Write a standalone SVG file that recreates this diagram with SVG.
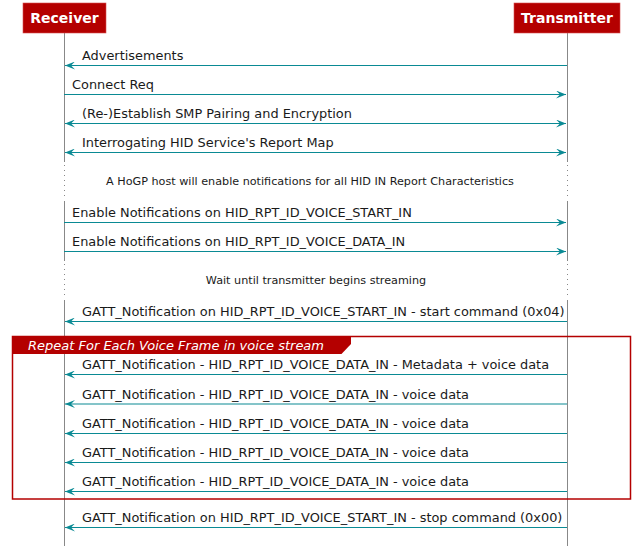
<svg xmlns="http://www.w3.org/2000/svg" width="641" height="556" viewBox="0 0 641 556">
<style>
.part{fill:#B40000;stroke:#D85050;stroke-width:0.6}
.ptxt{font-family:"DejaVu Sans",sans-serif;font-size:14px;font-weight:bold;fill:#ffffff;text-anchor:middle}
.life{stroke:#888888;stroke-width:1;fill:none}
.dot{stroke:#888888;stroke-width:1;stroke-dasharray:1 4;fill:none}
.msg{stroke:#0A8A94;stroke-width:1.2;fill:none}
.mtxt{font-family:"DejaVu Sans",sans-serif;font-size:12.9px;fill:#1a1a1a}
.note{font-family:"DejaVu Sans",sans-serif;font-size:11.2px;fill:#1a1a1a;text-anchor:middle}
.loop{fill:none;stroke:#B40000;stroke-width:1.5}
.tab{fill:#B40000}
.ltxt{font-family:"DejaVu Sans",sans-serif;font-size:13px;font-style:italic;fill:#ffffff}
</style>
<defs>
<marker id="ah" viewBox="0 0 10 8" refX="10" refY="4" markerWidth="10" markerHeight="8" markerUnits="userSpaceOnUse" orient="auto-start-reverse">
<path d="M0,0 L10,4 L0,8 L4,4 Z" fill="#0A8A94"/>
</marker>
</defs>
<rect width="641" height="556" fill="#ffffff"/>
<g id="lifelines">
<path class="life" d="M64.5,33 V162 M64.5,201 V261 M64.5,300 V546"/>
<path class="dot" d="M64.5,165 V199 M64.5,264 V298"/>
<path class="life" d="M567.5,33 V162 M567.5,201 V261 M567.5,300 V546"/>
<path class="dot" d="M567.5,165 V199 M567.5,264 V298"/>
</g>
<g id="receiver">
<rect class="part" x="23" y="3" width="83" height="30"/>
<text class="ptxt" x="64.5" y="23">Receiver</text>
</g>
<g id="transmitter">
<rect class="part" x="514" y="3" width="106" height="30"/>
<text class="ptxt" x="567" y="23">Transmitter</text>
</g>
<g id="loop">
<rect class="loop" x="12.5" y="336.5" width="618" height="162.5"/>
<path class="tab" d="M12,336 H351 V344 L341.5,354 H12 Z"/>
<text class="ltxt" x="28" y="350">Repeat For Each Voice Frame in voice stream</text>
</g>
<g id="notes">
<text class="note" x="310" y="185">A HoGP host will enable notifications for all HID IN Report Characteristics</text>
<text class="note" x="316" y="284">Wait until transmitter begins streaming</text>
</g>
<g id="connectors">
<line class="msg" x1="567" y1="65.5" x2="65" y2="65.5" marker-end="url(#ah)"/>
<line class="msg" x1="64" y1="94.5" x2="566" y2="94.5" marker-end="url(#ah)"/>
<line class="msg" x1="65" y1="123.5" x2="566" y2="123.5" marker-start="url(#ah)" marker-end="url(#ah)"/>
<line class="msg" x1="65" y1="152.5" x2="566" y2="152.5" marker-start="url(#ah)" marker-end="url(#ah)"/>
<line class="msg" x1="64" y1="222.5" x2="566" y2="222.5" marker-end="url(#ah)"/>
<line class="msg" x1="64" y1="251.5" x2="566" y2="251.5" marker-end="url(#ah)"/>
<line class="msg" x1="567" y1="321.5" x2="65" y2="321.5" marker-end="url(#ah)"/>
<line class="msg" x1="567" y1="374.5" x2="65" y2="374.5" marker-end="url(#ah)"/>
<line class="msg" x1="567" y1="404" x2="65" y2="404" marker-end="url(#ah)"/>
<line class="msg" x1="567" y1="433.5" x2="65" y2="433.5" marker-end="url(#ah)"/>
<line class="msg" x1="567" y1="462.5" x2="65" y2="462.5" marker-end="url(#ah)"/>
<line class="msg" x1="567" y1="491.5" x2="65" y2="491.5" marker-end="url(#ah)"/>
<line class="msg" x1="567" y1="527.5" x2="65" y2="527.5" marker-end="url(#ah)"/>
</g>
<g id="labels">
<text class="mtxt" x="82" y="60">Advertisements</text>
<text class="mtxt" x="72" y="89">Connect Req</text>
<text class="mtxt" x="82" y="118">(Re-)Establish SMP Pairing and Encryption</text>
<text class="mtxt" x="82" y="147">Interrogating HID Service's Report Map</text>
<text class="mtxt" x="72" y="217">Enable Notifications on HID_RPT_ID_VOICE_START_IN</text>
<text class="mtxt" x="72" y="246">Enable Notifications on HID_RPT_ID_VOICE_DATA_IN</text>
<text class="mtxt" x="82" y="316">GATT_Notification on HID_RPT_ID_VOICE_START_IN - start command (0x04)</text>
<text class="mtxt" x="82" y="369">GATT_Notification - HID_RPT_ID_VOICE_DATA_IN - Metadata + voice data</text>
<text class="mtxt" x="82" y="398.5">GATT_Notification - HID_RPT_ID_VOICE_DATA_IN - voice data</text>
<text class="mtxt" x="82" y="428">GATT_Notification - HID_RPT_ID_VOICE_DATA_IN - voice data</text>
<text class="mtxt" x="82" y="457">GATT_Notification - HID_RPT_ID_VOICE_DATA_IN - voice data</text>
<text class="mtxt" x="82" y="486">GATT_Notification - HID_RPT_ID_VOICE_DATA_IN - voice data</text>
<text class="mtxt" x="82" y="522">GATT_Notification on HID_RPT_ID_VOICE_START_IN - stop command (0x00)</text>
</g>
</svg>
